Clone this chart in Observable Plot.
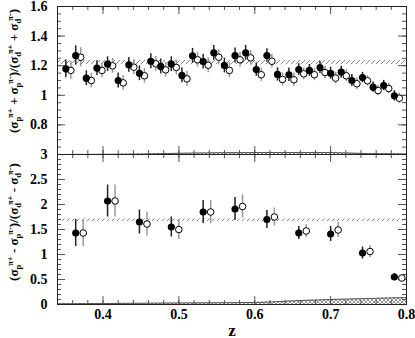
<!DOCTYPE html>
<html><head><meta charset="utf-8">
<script src="https://cdn.jsdelivr.net/npm/d3@7"></script>
<script src="https://cdn.jsdelivr.net/npm/@observablehq/plot@0.6"></script>
<style>body{margin:0;background:#fff}#chart{position:relative;width:415px;height:338px;font-family:"Liberation Serif",serif}</style>
</head><body>
<div id="chart">
<svg width="0" height="0" style="position:absolute"><defs>
<pattern id="hatch" patternUnits="userSpaceOnUse" width="5" height="5"><path d="M0,5 L5,0" stroke="#888" stroke-width="1"/></pattern>
<pattern id="xhatch" patternUnits="userSpaceOnUse" width="4" height="4"><path d="M0,0 L4,4 M4,0 L0,4" stroke="#777" stroke-width="0.8"/></pattern>
</defs></svg>
</div>
<script>
// ---- data ----
const zTop = [0.351,0.364,0.378,0.392,0.406,0.420,0.434,0.448,0.463,0.476,0.490,0.504,0.518,0.532,0.546,0.560,0.574,0.588,0.602,0.616,0.630,0.645,0.658,0.672,0.686,0.700,0.714,0.728,0.742,0.756,0.770,0.784];
const topFilled = [1.179,1.269,1.116,1.183,1.210,1.100,1.206,1.149,1.230,1.195,1.210,1.134,1.267,1.228,1.287,1.201,1.269,1.287,1.174,1.269,1.141,1.139,1.174,1.168,1.188,1.149,1.156,1.100,1.120,1.055,1.066,0.997];
const topOpen = [1.168,1.257,1.100,1.168,1.199,1.084,1.190,1.132,1.213,1.172,1.188,1.111,1.240,1.203,1.257,1.168,1.240,1.253,1.139,1.230,1.107,1.105,1.145,1.139,1.154,1.116,1.132,1.078,1.098,1.032,1.046,0.980];
const topErr = [0.06,0.065,0.05,0.05,0.05,0.05,0.05,0.05,0.05,0.05,0.05,0.05,0.05,0.05,0.05,0.05,0.05,0.05,0.045,0.045,0.045,0.045,0.04,0.04,0.04,0.04,0.04,0.04,0.035,0.035,0.035,0.035];
const zBot = [0.364,0.406,0.448,0.490,0.532,0.574,0.616,0.658,0.700,0.742,0.784];
const botFilled = [1.43,2.07,1.65,1.55,1.85,1.91,1.70,1.43,1.41,1.03,0.55];
const botOpen = [1.43,2.07,1.61,1.50,1.85,1.96,1.75,1.47,1.49,1.06,0.53];
const botErr = [0.27,0.32,0.24,0.20,0.23,0.23,0.18,0.13,0.15,0.12,0.07];
const topBand = [1.207, 1.235];
const botBand = [1.66, 1.71];
const zSys = [0.34,0.40,0.45,0.50,0.55,0.60,0.62,0.66,0.70,0.75,0.80];
const sysTop = [0.600,0.601,0.603,0.608,0.612,0.613,0.613,0.613,0.613,0.606,0.604];
const sysBot = [0.015,0.02,0.025,0.03,0.035,0.04,0.05,0.08,0.10,0.12,0.14];
const xTicks = [0.4,0.5,0.6,0.7,0.8];
const yTicksTop = [0.8,1,1.2,1.4,1.6];
const yTicksBot = [0,0.5,1,1.5,2,2.5,3];

const W = 415, ML = 57, MR = 9;
const xDomain = [0.34, 0.8];
const xMinor = d3.range(0.34, 0.801, 0.02);
const font = {fontFamily: "Liberation Serif", fontWeight: "bold"};

function tickMarks(innerH, innerW, yMajor, yMinor, majLen, minLen) {
  const c = "#555";
  return [
    Plot.ruleX(xTicks, {x: d => d, insetTop: innerH - majLen, stroke: c}),
    Plot.ruleX(xTicks, {x: d => d, insetBottom: innerH - majLen, stroke: c}),
    Plot.ruleX(xMinor, {x: d => d, insetTop: innerH - minLen, stroke: c}),
    Plot.ruleX(xMinor, {x: d => d, insetBottom: innerH - minLen, stroke: c}),
    Plot.ruleY(yMajor, {y: d => d, insetRight: innerW - majLen, stroke: c}),
    Plot.ruleY(yMajor, {y: d => d, insetLeft: innerW - majLen, stroke: c}),
    Plot.ruleY(yMinor, {y: d => d, insetRight: innerW - minLen, stroke: c}),
    Plot.ruleY(yMinor, {y: d => d, insetLeft: innerW - minLen, stroke: c})
  ];
}

const innerW = W - ML - MR;
// ---- top panel ----
const topRows = zTop.map((z, i) => ({z, f: topFilled[i], o: topOpen[i], e: topErr[i]}));
const sysRows = zSys.map((z, i) => ({z, t: sysTop[i], b: sysBot[i]}));
const topPlot = Plot.plot({
  width: W, height: 160, marginTop: 6, marginBottom: 6, marginLeft: ML, marginRight: MR,
  style: {background: "transparent", fontFamily: "Liberation Serif", fontSize: "14px", fontWeight: "bold", color: "black"},
  x: {domain: xDomain, axis: null, label: null},
  y: {domain: [0.6, 1.6], axis: null, label: null},
  marks: [
    Plot.rect([topBand], {y1: d => d[0], y2: d => d[1], fill: "url(#hatch)"}),
    Plot.areaY(sysRows, {x: "z", y1: 0.6, y2: "t", fill: "url(#xhatch)"}),
    Plot.lineY(sysRows, {x: "z", y: "t", stroke: "#333", strokeWidth: 0.8}),
    ...tickMarks(148, innerW, yTicksTop, d3.range(0.6, 1.601, 0.05), 8, 4),
    Plot.axisY(yTicksTop, {tickSize: 0, tickPadding: 10, label: null, tickFormat: d => String(d), fontSize: 14, ...font}),
    Plot.ruleX(topRows, {x: "z", y1: d => d.o - d.e, y2: d => d.o + d.e, dx: 5, stroke: "#999", strokeWidth: 1.5}),
    Plot.ruleX(topRows, {x: "z", y1: d => d.f - d.e, y2: d => d.f + d.e, stroke: "#222", strokeWidth: 1.5}),
    Plot.dot(topRows, {x: "z", y: "o", dx: 5, r: 3.3, fill: "white", stroke: "black", strokeWidth: 1}),
    Plot.dot(topRows, {x: "z", y: "f", r: 3.6, fill: "black"}),
    Plot.frame({stroke: "#222"})
  ]
});
topPlot.style.position = "absolute"; topPlot.style.left = "0px"; topPlot.style.top = "0px";

// ---- bottom panel ----
const botRows = zBot.map((z, i) => ({z, f: botFilled[i], o: botOpen[i], e: botErr[i]}));
const botPlot = Plot.plot({
  width: W, height: 190, marginTop: 6, marginBottom: 34, marginLeft: ML, marginRight: MR,
  style: {background: "transparent", fontFamily: "Liberation Serif", fontSize: "14px", fontWeight: "bold", color: "black"},
  x: {domain: xDomain, axis: null, label: null},
  y: {domain: [0, 3], axis: null, label: null},
  marks: [
    Plot.rect([botBand], {y1: d => d[0], y2: d => d[1], fill: "url(#hatch)"}),
    Plot.areaY(sysRows, {x: "z", y1: 0, y2: "b", fill: "url(#xhatch)"}),
    Plot.lineY(sysRows, {x: "z", y: "b", stroke: "#333", strokeWidth: 0.8}),
    ...tickMarks(150, innerW, yTicksBot, d3.range(0, 3.001, 0.1), 8, 4),
    Plot.axisY(yTicksBot, {tickSize: 0, tickPadding: 10, label: null, tickFormat: d => String(d), fontSize: 14, ...font}),
    Plot.axisX(xTicks, {tickSize: 0, tickPadding: 5, label: null, tickFormat: d => String(d), fontSize: 14, ...font}),
    Plot.text(["z"], {frameAnchor: "bottom", dy: 31, text: d => d, fontSize: 17, ...font}),
    Plot.ruleX(botRows, {x: "z", y1: d => d.o - d.e, y2: d => d.o + d.e, dx: 7.5, stroke: "#999", strokeWidth: 1.5}),
    Plot.ruleX(botRows, {x: "z", y1: d => d.f - d.e, y2: d => d.f + d.e, stroke: "#222", strokeWidth: 1.5}),
    Plot.dot(botRows, {x: "z", y: "o", dx: 7.5, r: 3.3, fill: "white", stroke: "black", strokeWidth: 1}),
    Plot.dot(botRows, {x: "z", y: "f", r: 3.6, fill: "black"}),
    Plot.frame({stroke: "#222"})
  ]
});
botPlot.style.position = "absolute"; botPlot.style.left = "0px"; botPlot.style.top = "148px";

const chart = document.getElementById("chart");
chart.appendChild(topPlot);
chart.appendChild(botPlot);

// ---- rotated y titles with sub/superscripts ----
function yTitle(svg, cx, cy, op) {
  const parts = [["(σ",0,0],["p",3,0],["π+",-5,-1],[" "+op+" σ",0,0],["p",3,0],["π-",-5,-1],[")/(σ",0,0],["d",3,0],["π+",-5,-2],[" "+op+" σ",0,0],["d",3,0],["π-",-5,-2],[")",0,0]];
  const t = d3.select(svg).append("text")
    .attr("transform", `translate(${cx},${cy}) rotate(-90)`)
    .attr("text-anchor", "middle")
    .attr("font-family", "Liberation Serif").attr("font-weight", "bold").attr("font-size", 13).attr("fill", "black");
  let prev = 0;
  for (const [s, sh, dx] of parts) {
    const ts = t.append("tspan").text(s).attr("dy", sh - prev);
    if (dx) ts.attr("dx", dx);
    if (sh !== 0) ts.attr("font-size", 8.5);
    prev = sh;
  }
}
yTitle(topPlot, 18, 71, "+");
yTitle(botPlot, 18, 222 - 148, "-");
</script>
</body></html>
